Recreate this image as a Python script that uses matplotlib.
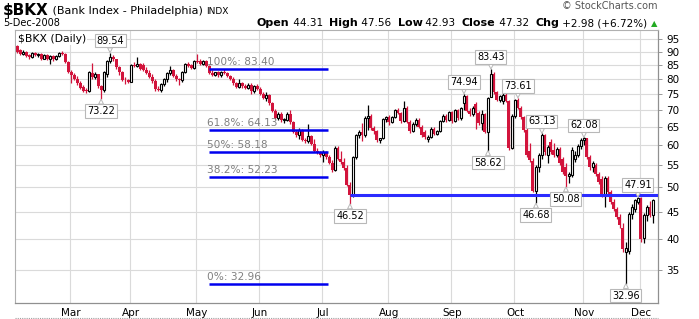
import numpy as np
import pandas as pd
import matplotlib
matplotlib.use("Agg")
import matplotlib.pyplot as plt

# daily OHLC, $BKX, 5-Feb-2008 .. 5-Dec-2008
opens = [92.0, 90.5, 89.0, 90.0, 88.5, 88.0, 89.3, 88.6, 89.0, 87.2, 88.5, 87.0, 88.2, 87.0, 88.3, 89.5, 89.0, 86.0,
         82.5, 81.2, 80.0, 78.6, 77.2, 76.2, 75.8, 82.0, 80.6, 81.5, 77.4, 76.2, 81.5, 86.5, 87.8, 87.0, 84.0, 82.2, 79.6, 79.4,
         79.0, 85.0, 84.6, 85.2, 85.0, 83.0, 82.0, 80.5, 79.2, 76.5, 76.2, 78.2, 79.8, 82.0, 83.0, 81.0, 79.8, 79.4, 82.5, 85.2, 84.8, 83.8,
         86.5, 86.4, 85.3, 86.3, 84.6, 82.0, 81.3, 82.2, 81.2, 82.4, 82.0, 80.8, 80.0, 78.4, 77.2, 78.6, 77.4, 76.8, 78.0, 75.8, 77.4,
         76.6, 75.0, 73.6, 74.4, 71.9, 69.6, 67.6, 68.6, 66.8, 67.0, 68.8, 66.2, 63.6, 62.8, 64.0, 61.4, 61.0, 62.4, 60.3, 58.6, 58.2,
         57.4, 58.3, 57.0, 55.6, 54.0, 59.2, 56.6, 55.8, 54.4, 50.6, 48.3, 57.0, 62.6, 63.4, 62.6, 67.6, 68.2, 64.6, 63.8, 61.3, 61.8, 67.2,
         67.8, 66.4, 67.9, 69.8, 69.0, 66.5, 70.5, 66.4, 63.8, 65.8, 67.0, 65.0, 63.6, 61.6, 62.2, 64.4, 63.0, 63.8, 66.6, 68.2, 67.0,
         69.2, 66.6, 69.8, 67.4, 72.0, 74.2, 69.6, 68.6, 71.6, 69.0, 66.0, 68.6, 63.6, 74.0, 81.8, 75.4, 73.0, 72.8, 74.6, 72.8, 59.3,
         68.0, 73.0, 70.6, 67.7, 64.0, 58.5, 56.0, 49.3, 54.5, 57.5, 62.8, 57.5, 60.8, 58.8, 57.5, 59.0, 56.5, 54.5, 52.5, 52.8, 56.5, 57.5, 59.8,
         61.3, 61.8, 57.0, 54.5, 55.0, 53.0, 51.8, 48.5, 52.0, 49.0, 47.0, 45.6, 44.0, 42.0, 37.8, 38.0, 44.5, 45.5, 47.0,
         47.8, 40.1, 44.3, 45.9, 44.31]
highs = [92.5, 91.0, 90.5, 90.2, 89.0, 89.8, 90.0, 89.6, 89.4, 88.9, 89.0, 88.8, 88.6, 88.7, 89.9, 90.2, 89.5, 86.5,
         83.0, 82.0, 80.8, 79.3, 78.0, 77.0, 82.8, 85.6, 82.5, 81.8, 78.0, 82.6, 86.8, 89.54, 88.5, 87.3, 84.5, 82.8, 80.5, 80.0,
         85.4, 86.0, 88.0, 85.6, 85.5, 84.0, 83.0, 81.5, 79.8, 77.5, 78.5, 80.2, 82.5, 84.5, 83.5, 81.6, 80.2, 82.8, 85.6, 86.0, 85.2, 86.8,
         89.0, 87.2, 86.8, 86.8, 85.0, 83.0, 82.5, 82.8, 82.8, 83.3, 82.4, 81.2, 80.5, 78.8, 80.0, 79.0, 78.3, 78.5, 78.5, 77.8, 78.3,
         77.2, 75.5, 75.5, 74.8, 72.4, 70.2, 69.2, 69.2, 67.6, 69.4, 70.0, 66.6, 64.0, 64.6, 64.4, 62.0, 65.8, 62.8, 61.5, 59.4, 58.6,
         58.8, 58.6, 57.6, 56.2, 59.8, 59.8, 58.4, 56.8, 55.0, 51.2, 57.3, 63.0, 64.0, 66.0, 68.0, 71.5, 68.8, 65.2, 64.2, 62.0, 67.6, 68.0,
         68.5, 68.2, 70.2, 70.4, 69.4, 72.5, 71.0, 66.8, 66.2, 67.4, 67.4, 65.4, 64.0, 62.8, 64.8, 64.8, 64.2, 67.0, 68.6, 68.8, 69.6,
         69.6, 70.2, 70.2, 70.8, 74.94, 74.6, 70.4, 71.0, 72.2, 69.6, 70.0, 69.0, 74.0, 83.43, 82.2, 75.8, 74.6, 75.2, 75.2, 73.0,
         68.6, 73.4, 73.61, 71.0, 68.0, 64.5, 60.5, 56.8, 55.0, 58.0, 63.13, 63.0, 60.0, 61.5, 60.5, 59.5, 59.5, 57.0, 55.5, 53.5, 59.5, 58.5, 60.2,
         61.8, 62.08, 62.0, 57.5, 56.0, 55.5, 53.5, 52.5, 52.5, 52.5, 49.5, 47.5, 46.0, 44.5, 42.8, 39.5, 45.0, 46.5, 47.6,
         47.91, 47.9, 44.8, 46.3, 47.2, 47.56]
lows = [89.5, 88.8, 88.5, 88.0, 87.2, 87.5, 88.2, 87.8, 86.8, 87.0, 86.8, 85.2, 86.5, 86.6, 87.9, 88.5, 85.5, 82.0,
        78.4, 79.5, 78.0, 76.5, 75.5, 75.2, 75.5, 80.0, 79.8, 77.0, 73.22, 75.6, 80.5, 85.5, 86.5, 83.5, 81.2, 79.2, 78.2, 78.6,
        78.8, 84.0, 84.2, 83.2, 82.6, 81.5, 80.2, 78.5, 76.0, 75.8, 75.6, 77.6, 79.0, 81.2, 80.5, 79.3, 78.0, 79.0, 82.0, 84.2, 83.4, 83.5,
        85.8, 85.0, 84.8, 84.3, 81.5, 80.8, 80.8, 80.6, 80.6, 81.6, 80.5, 79.6, 78.0, 76.8, 76.8, 77.0, 76.5, 76.4, 75.0, 75.2, 76.2,
        74.5, 73.2, 72.8, 71.5, 69.2, 67.2, 67.0, 66.4, 66.0, 66.6, 65.8, 63.2, 62.2, 61.5, 61.0, 60.6, 60.6, 60.0, 58.2, 57.8, 57.0,
        55.8, 56.6, 55.2, 53.4, 53.6, 56.2, 55.2, 53.8, 50.2, 46.52, 48.0, 56.5, 62.0, 61.0, 62.2, 64.0, 64.2, 63.0, 60.8, 60.6, 61.5, 66.2,
        65.6, 66.0, 67.4, 68.8, 66.0, 66.2, 66.0, 63.3, 63.4, 65.2, 64.6, 62.2, 61.6, 60.8, 62.0, 62.6, 62.6, 63.4, 66.2, 66.4, 66.6,
        66.0, 66.2, 67.0, 67.0, 70.0, 69.2, 68.2, 68.2, 64.4, 65.6, 64.0, 63.2, 58.62, 73.8, 75.0, 72.6, 72.4, 71.8, 72.2, 58.8, 59.0,
        67.5, 70.2, 67.2, 63.5, 57.0, 55.8, 49.0, 46.68, 53.5, 56.5, 57.5, 55.5, 57.8, 57.0, 57.0, 55.0, 53.0, 50.08, 51.0, 52.2, 55.8, 57.0, 59.0,
        60.0, 56.5, 54.0, 53.5, 52.5, 50.8, 48.0, 46.0, 48.5, 46.5, 45.2, 43.5, 42.0, 37.8, 32.96, 37.5, 43.5, 45.0,
        46.5, 39.5, 39.3, 43.2, 43.9, 42.93]
closes = [90.0, 89.2, 90.0, 88.4, 87.8, 89.3, 88.6, 89.2, 87.2, 88.5, 87.0, 88.2, 87.0, 88.3, 89.5, 89.0, 86.0, 82.5,
          81.2, 80.0, 78.6, 77.0, 76.0, 75.8, 82.4, 80.6, 81.8, 77.4, 76.2, 82.2, 86.5, 87.8, 87.0, 84.0, 82.2, 79.6, 79.4, 79.0,
          85.0, 84.6, 85.2, 83.6, 83.0, 82.0, 80.5, 79.2, 76.5, 76.2, 78.2, 79.8, 82.0, 83.0, 81.0, 79.8, 79.4, 82.5, 85.2, 84.6, 83.8, 86.5,
          86.0, 85.3, 86.3, 84.6, 82.0, 81.3, 82.2, 81.2, 82.4, 82.0, 80.8, 80.0, 78.4, 77.2, 78.6, 77.4, 76.8, 78.0, 75.8, 77.4, 76.6,
          75.0, 73.6, 74.4, 71.9, 69.6, 67.6, 68.6, 66.8, 67.2, 68.8, 66.2, 63.6, 62.8, 64.0, 61.4, 61.0, 62.4, 60.3, 58.6, 58.2, 57.4,
          58.3, 57.0, 55.6, 54.0, 59.2, 56.6, 55.8, 54.4, 50.6, 48.3, 57.0, 62.6, 63.4, 62.6, 67.6, 68.2, 64.6, 63.8, 61.3, 61.8, 67.2, 67.8,
          66.4, 67.9, 69.8, 69.0, 66.5, 70.5, 66.4, 63.8, 65.8, 67.0, 65.0, 62.6, 62.2, 62.2, 64.4, 63.0, 63.8, 66.6, 68.2, 67.0, 69.2,
          66.6, 69.8, 67.4, 70.4, 74.2, 69.6, 68.6, 70.6, 69.0, 66.0, 68.6, 63.6, 73.6, 81.8, 75.4, 73.0, 74.2, 74.6, 72.8, 59.3, 68.0,
          73.0, 70.6, 67.7, 64.0, 57.4, 56.3, 49.3, 54.5, 57.5, 62.8, 58.2, 59.5, 58.3, 57.5, 59.0, 55.6, 53.5, 52.5, 53.0, 58.8, 57.5, 59.8, 61.3,
          61.8, 57.0, 54.5, 55.5, 53.0, 51.2, 48.5, 52.0, 49.0, 47.0, 45.6, 44.0, 42.4, 38.2, 38.5, 44.5, 46.0, 47.3, 47.8,
          40.0, 44.3, 45.9, 44.34, 47.32]

holidays = ["2008-02-18", "2008-03-21", "2008-05-26", "2008-07-04", "2008-09-01", "2008-11-27"]
dates = pd.bdate_range("2008-02-05", "2008-12-05")
dates = dates[~dates.isin(pd.to_datetime(holidays))]

month_names = ["Mar", "Apr", "May", "Jun", "Jul", "Aug", "Sep", "Oct", "Nov", "Dec"]

fib_labels = ["100%: 83.40", "61.8%: 64.13", "50%: 58.18", "38.2%: 52.23", "0%: 32.96"]
fib_levels = [83.40, 64.13, 58.18, 52.23, 32.96]
support_level = 48.3

# (value, day index of the extreme, above/below)
callouts = [(89.54, 31, "up"), (73.22, 28, "down"), (46.52, 111, "down"), (74.94, 149, "up"),
            (83.43, 158, "up"), (58.62, 157, "down"), (73.61, 167, "up"), (63.13, 175, "up"),
            (62.08, 189, "up"), (46.68, 173, "down"), (50.08, 183, "down"), (47.91, 207, "up"),
            (32.96, 203, "down")]

yticks = [35, 40, 45, 50, 55, 60, 65, 70, 75, 80, 85, 90, 95]

red = "#d2143c"
grid_c = "#dadada"
blue = "#0000ee"

o = np.array(opens); h = np.array(highs); l = np.array(lows); c = np.array(closes)
n = len(c)
idx = np.arange(n)
up = c >= o

W, H = 699, 319
fig = plt.figure(figsize=(W / 100, H / 100), dpi=100)
ax = fig.add_axes([15 / W, 16 / H, 643 / W, 273.5 / H])

ax.set_yscale("log")
ax.set_ylim(30.3, 99)
ax.set_xlim(-0.7, 213.7)

# grid
for v in yticks:
    ax.axhline(v, color=grid_c, lw=0.8, zorder=0)
month_pos = []
for m in range(3, 13):
    first = np.where(dates.month == m)[0][0]
    month_pos.append(first)
    ax.axvline(first - 0.3, color=grid_c, lw=0.8, zorder=0)

# candles
ax.vlines(idx[~up], l[~up], h[~up], color=red, lw=0.9, zorder=2)
ax.vlines(idx[up], l[up], h[up], color="black", lw=0.9, zorder=2)
ax.bar(idx[~up], (o - c)[~up], bottom=c[~up], width=1.0, color=red, lw=0, zorder=3)
ax.bar(idx[up], np.maximum(c - o, 0.15)[up], bottom=o[up], width=0.85, color="white",
       edgecolor="black", lw=0.8, zorder=3)

# fibonacci retracement
fib_start, fib_end = 64, 103.7
for lab, lev in zip(fib_labels, fib_levels):
    ax.hlines(lev, fib_start, fib_end, color=blue, lw=1.8, zorder=5)
    ax.annotate(lab, (fib_start - 0.6, lev), xytext=(0, 2), textcoords="offset pixels",
                ha="left", va="bottom", fontsize=7.6, color="#808080", zorder=6)
ax.hlines(support_level, 111, 213.7, color="#2b2bff", lw=2.2, zorder=5)

# callouts
for val, i, side in callouts:
    dy = 12 if side == "up" else -12
    ax.annotate(f"{val:.2f}", (i, val), xytext=(0, dy), textcoords="offset pixels",
                ha="center", va="center", fontsize=7, zorder=8,
                bbox=dict(boxstyle="square,pad=0.18", fc="white", ec="#b8b8b8", lw=0.8),
                arrowprops=dict(arrowstyle="wedge,tail_width=0.5,shrink_factor=0.5",
                                fc="white", ec="#b8b8b8", lw=0.7, shrinkA=0, shrinkB=0))

ax.text(0.004, 0.985, "$BKX (Daily)", transform=ax.transAxes, ha="left", va="top",
        fontsize=7.8, zorder=9, bbox=dict(boxstyle="square,pad=0.1", fc="white", ec="none"))

# axes styling
ax.yaxis.tick_right()
ax.set_yticks(yticks)
ax.set_yticklabels([str(v) for v in yticks])
ax.yaxis.set_minor_locator(matplotlib.ticker.NullLocator())
ax.tick_params(axis="y", length=3, width=0.6, colors="#888888", labelcolor="black",
               labelsize=7.5, pad=3)
ax.set_xticks(month_pos)
ax.set_xticklabels(month_names)
ax.tick_params(axis="x", length=0, labelsize=7.5, pad=3.5)
for s in ["left", "top"]:
    ax.spines[s].set_color("#b0b0b0")
    ax.spines[s].set_linewidth(0.8)
for s in ["right", "bottom"]:
    ax.spines[s].set_color("#909090")
    ax.spines[s].set_linestyle((0, (1, 1)))
    ax.spines[s].set_linewidth(0.9)
fig.add_artist(plt.Line2D([15 / W, 658 / W], [1.5 / H, 1.5 / H], color="#a0a0a0",
                          lw=0.8, ls=(0, (1, 1))))

# header
renderer = fig.canvas.get_renderer()


def run(pieces, x, y, align="left"):
    widths = []
    arts = []
    for txt, kw in pieces:
        t = fig.text(0, y, txt, va="center", **kw)
        widths.append(t.get_window_extent(renderer).width)
        arts.append(t)
    total = sum(widths)
    x0 = x if align == "left" else x - total
    for t, w in zip(arts, widths):
        t.set_x(x0 / W)
        x0 += w


run([("$BKX", dict(fontsize=11, fontweight="bold")),
     (" (Bank Index - Philadelphia) ", dict(fontsize=8)),
     ("INDX", dict(fontsize=6.5))], 3, 1 - 11 / H)
fig.text(3 / W, 1 - 23.5 / H, "5-Dec-2008", fontsize=7, va="center")
fig.text(657 / W, 1 - 6 / H, "\u00a9 StockCharts.com", fontsize=7, va="center", ha="right",
         color="#555555")
b = dict(fontsize=8, fontweight="bold")
r = dict(fontsize=7.5)
run([("Open", b), (" 44.31  ", r), ("High", b), (" 47.56  ", r), ("Low", b), (" 42.93  ", r),
     ("Close", b), (" 47.32  ", r), ("Chg", b), (" +2.98 (+6.72%) ", r),
     ("\u25b2", dict(fontsize=6, color="#22aa22"))], 657, 1 - 23.5 / H, align="right")

fig.savefig("out.png", dpi=100)
